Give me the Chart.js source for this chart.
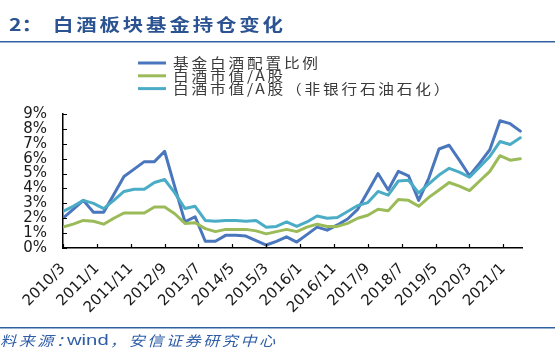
<!DOCTYPE html>
<html lang="zh-CN">
<head>
<meta charset="UTF-8" />
<title>白酒板块基金持仓变化</title>
<script src="https://cdn.jsdelivr.net/npm/chart.js"></script>
<style>
  html, body { margin: 0; padding: 0; background: #fff; }
</style>
</head>
<body>
<canvas id="chart" width="555" height="353"></canvas>

<script>
  // quarterly points, 2010/3 .. 2021/6
  const quarters = [
    '2010/3','2010/6','2010/9','2010/12','2011/3','2011/6','2011/9','2011/12',
    '2012/3','2012/6','2012/9','2012/12','2013/3','2013/6','2013/9','2013/12',
    '2014/3','2014/6','2014/9','2014/12','2015/3','2015/6','2015/9','2015/12',
    '2016/3','2016/6','2016/9','2016/12','2017/3','2017/6','2017/9','2017/12',
    '2018/3','2018/6','2018/9','2018/12','2019/3','2019/6','2019/9','2019/12',
    '2020/3','2020/6','2020/9','2020/12','2021/3','2021/6'
  ];
  const xTickLabels = ['2010/3','2011/1','2011/11','2012/9','2013/7','2014/5','2015/3',
    '2016/1','2016/11','2017/9','2018/7','2019/5','2020/3','2021/1'];
  const yTicks = [0, 1, 2, 3, 4, 5, 6, 7, 8, 9];

  const seriesNames = ['基金白酒配置比例', '白酒市值/A股', '白酒市值/A股（非银行石油石化）'];
  const seriesColors = ['#4a76bd', '#9bbb59', '#4bacc6'];

  // values in %
  const fundWeight = [2.0, 2.6, 3.2, 2.4, 2.4, 3.6, 4.8, 5.3, 5.8, 5.8, 6.5, 4.1,
    1.75, 2.1, 0.45, 0.45, 0.85, 0.85, 0.8, 0.5, 0.2, 0.45, 0.75, 0.4,
    0.9, 1.4, 1.2, 1.55, 1.95, 2.6, 3.8, 5.0, 3.9, 5.15, 4.85, 3.2,
    4.7, 6.65, 6.9, 5.9, 4.85, 5.7, 6.6, 8.55, 8.35, 7.85];
  const marketShare = [1.4, 1.6, 1.85, 1.8, 1.6, 2.0, 2.35, 2.35, 2.35, 2.75, 2.75, 2.3,
    1.65, 1.7, 1.3, 1.1, 1.25, 1.25, 1.25, 1.15, 0.95, 1.1, 1.25, 1.1,
    1.4, 1.6, 1.45, 1.45, 1.65, 2.0, 2.2, 2.6, 2.5, 3.25, 3.2, 2.8,
    3.4, 3.9, 4.4, 4.15, 3.85, 4.5, 5.15, 6.2, 5.9, 6.0];
  const marketShareExFin = [2.45, 2.8, 3.2, 3.0, 2.65, 3.2, 3.8, 3.95, 3.95, 4.4, 4.6, 3.7,
    2.65, 2.8, 1.85, 1.8, 1.85, 1.85, 1.8, 1.85, 1.4, 1.45, 1.75, 1.45,
    1.75, 2.15, 2.0, 2.05, 2.45, 2.85, 3.05, 3.8, 3.55, 4.5, 4.55, 3.7,
    4.3, 4.9, 5.35, 5.1, 4.75, 5.45, 6.15, 7.15, 6.95, 7.4];

  // months since 2010/3
  function monthIndex(s) {
    const [y, m] = s.split('/').map(Number);
    return (y - 2010) * 12 + (m - 3);
  }
  const tickText = {};
  xTickLabels.forEach(l => { tickText[monthIndex(l)] = l; });

  function toPoints(values) {
    return quarters.map((q, i) => ({ x: monthIndex(q), y: values[i] }));
  }

  function drawText(ctx, text, x, y, font, color, sx, spacing) {
    ctx.save();
    ctx.translate(x, y);
    ctx.scale(sx, 1);
    ctx.font = font;
    ctx.fillStyle = color;
    ctx.letterSpacing = spacing + 'px';
    ctx.textBaseline = 'middle';
    ctx.textAlign = 'left';
    ctx.fillText(text, 0, 0);
    ctx.restore();
  }

  const cjk = '"Noto Sans CJK SC", "Noto Sans", sans-serif';

  const decorations = {
    id: 'decorations',
    afterDraw(chart) {
      const ctx = chart.ctx;
      const { left, bottom } = chart.chartArea;
      const xs = chart.scales.x, ys = chart.scales.y;

      // inside tick marks
      ctx.save();
      ctx.strokeStyle = '#000';
      ctx.lineWidth = 1.2;
      ctx.beginPath();
      ys.ticks.forEach(t => {
        const y = Math.round(ys.getPixelForValue(t.value)) + 0.5;
        ctx.moveTo(left, y); ctx.lineTo(left + 4, y);
      });
      xs.ticks.forEach(t => {
        const x = Math.round(xs.getPixelForValue(t.value)) + 0.5;
        ctx.moveTo(x, bottom); ctx.lineTo(x, bottom - 4);
      });
      ctx.stroke();
      ctx.restore();

      // title + rules
      const blue = '#2b5391';
      drawText(ctx, '2：', 9, 25, 'bold 17px ' + cjk, blue, 1.25, 0);
      drawText(ctx, '白酒板块基金持仓变化', 53, 25, 'bold 17px ' + cjk, blue, 1.2, 2.4);
      ctx.fillStyle = '#3161a3';
      ctx.fillRect(0, 41, 555, 1.5);
      ctx.fillRect(0, 327, 555, 1.5);

      // legend
      chart.data.datasets.forEach((ds, i) => {
        const y = 63 + i * 12.8;
        ctx.save();
        ctx.strokeStyle = ds.borderColor;
        ctx.lineWidth = 3;
        ctx.beginPath();
        ctx.moveTo(138, y); ctx.lineTo(166, y);
        ctx.stroke();
        ctx.restore();
        drawText(ctx, ds.label, 173, y, '14px ' + cjk, '#3a3a3a', 1.12, 2.5);
      });

      // source
      const src = '#2f5ea6';
      drawText(ctx, '料来源：', 0, 341, 'italic 14px ' + cjk, src, 1.15, 2.2);
      drawText(ctx, 'wind', 67, 341, '15px "Liberation Sans", Arial, sans-serif', src, 1.35, 0);
      drawText(ctx, '，安信证券研究中心', 110, 341, 'italic 14px ' + cjk, src, 1.15, 2.2);
    }
  };

  const tickFont = { family: '"DejaVu Sans", sans-serif', size: 15 };

  new Chart(document.getElementById('chart').getContext('2d'), {
    type: 'line',
    data: {
      datasets: [
        { label: seriesNames[0], data: toPoints(fundWeight), borderColor: seriesColors[0], order: 3 },
        { label: seriesNames[1], data: toPoints(marketShare), borderColor: seriesColors[1], order: 2 },
        { label: seriesNames[2], data: toPoints(marketShareExFin), borderColor: seriesColors[2], order: 1 }
      ]
    },
    options: {
      responsive: false,
      animation: false,
      layout: { padding: { left: 0, right: 33, top: 114, bottom: 0 } },
      elements: {
        line: { borderWidth: 3, tension: 0, borderJoinStyle: 'round', borderCapStyle: 'round' },
        point: { radius: 0 }
      },
      plugins: {
        legend: { display: false },
        tooltip: { enabled: false }
      },
      scales: {
        x: {
          type: 'linear',
          min: 0,
          max: 135.5,
          afterFit(scale) { scale.height = 105; },
          afterBuildTicks(scale) {
            scale.ticks = xTickLabels.map(l => ({ value: monthIndex(l) }));
          },
          grid: { display: true, drawOnChartArea: false, drawTicks: false },
          border: { display: true, color: '#000', width: 1.5 },
          ticks: {
            autoSkip: false,
            maxRotation: 45,
            minRotation: 45,
            padding: 12,
            color: '#1a1a1a',
            font: tickFont,
            callback: v => tickText[v] || ''
          }
        },
        y: {
          min: 0,
          max: 9,
          afterFit(scale) { scale.width = 63; },
          afterBuildTicks(scale) {
            scale.ticks = yTicks.map(v => ({ value: v }));
          },
          grid: { display: true, drawOnChartArea: false, drawTicks: false },
          border: { display: true, color: '#000', width: 1.5 },
          ticks: {
            autoSkip: false,
            padding: 16,
            color: '#1a1a1a',
            font: tickFont,
            callback: v => v + '%'
          }
        }
      }
    },
    plugins: [decorations]
  });
</script>
</body>
</html>
